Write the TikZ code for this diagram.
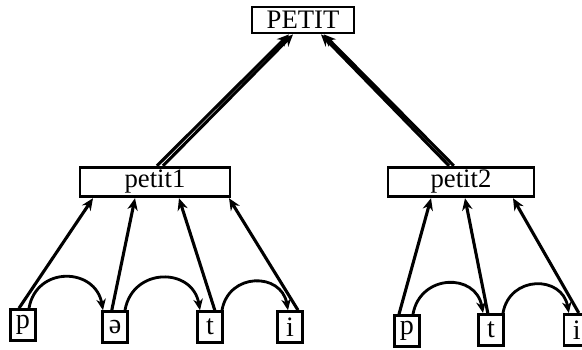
\documentclass[tikz,border=0pt]{standalone}
\usepackage{fontspec}
\setmainfont{Liberation Serif}
\usetikzlibrary{arrows.meta, calc, positioning}

\begin{document}
\begin{tikzpicture}[
  word/.style={draw, line width=2pt, inner sep=0pt, font=\fontsize{19}{20}\selectfont},
  seg/.style={draw, line width=2pt, inner sep=0pt, minimum width=0.64cm,
    minimum height=0.78cm, font=\fontsize{20}{21}\selectfont},
  arrow/.style={-{Stealth[length=3mm, width=2.6mm]}, line width=2.2pt},
  link/.style={-{Stealth[length=2.8mm, width=2.4mm]}, line width=2pt}
]
  \useasboundingbox (0, 0) rectangle (14.55, 8.75);

  % Blocks
  \node[word, minimum width=2.55cm, minimum height=0.65cm] (top) at (7.575, 8.25) {PETIT};
  \node[word, minimum width=3.75cm, minimum height=0.74cm] (petitA) at (3.875, 4.2) {petit1};
  \node[word, minimum width=3.65cm, minimum height=0.74cm] (petitB) at (11.525, 4.2) {petit2};

  \node[seg] (pA) at (0.575, 0.62) {p};
  \node[seg] (schwa) at (2.875, 0.57) {ə};
  \node[seg] (tA) at (5.25, 0.57) {t};
  \node[seg] (iA) at (7.25, 0.57) {i};

  \node[seg] (pB) at (10.175, 0.47) {p};
  \node[seg] (tB) at (12.275, 0.5) {t};
  \node[seg] (iB) at (14.42, 0.5) {i};

  % Arrows up to PETIT
  \draw[arrow] ([xshift=0.05cm]petitA.north) -- ([xshift=-0.35cm]top.south);
  \draw[arrow] ([xshift=0.2cm]petitA.north) -- ([xshift=-0.25cm]top.south);
  \draw[arrow] ([xshift=-0.3cm]petitB.north) -- ([xshift=0.45cm]top.south);
  \draw[arrow] ([xshift=-0.18cm]petitB.north) -- ([xshift=0.52cm]top.south);

  % Arrows up to petit1 and petit2
  \draw[arrow] ([xshift=-0.1cm]pA.north) -- ([xshift=-1.55cm]petitA.south);
  \draw[arrow] ([xshift=-0.08cm]schwa.north) -- ([xshift=-0.5cm]petitA.south);
  \draw[arrow] ([xshift=0.12cm]tA.north) -- ([xshift=0.6cm]petitA.south);
  \draw[arrow] ([xshift=0.2cm]iA.north) -- ([xshift=1.85cm]petitA.south);
  \draw[arrow] ([xshift=-0.2cm]pB.north) -- ([xshift=-0.75cm]petitB.south);
  \draw[arrow] ([xshift=-0.08cm]tB.north) -- ([xshift=0.1cm]petitB.south);
  \draw[arrow] ([xshift=0.05cm]iB.north) -- ([xshift=1.3cm]petitB.south);

  % Arcs between segments
  \draw[link] ([xshift=0.15cm]pA.north) to[out=80, in=100, looseness=1.5] ([xshift=-0.3cm]schwa.north);
  \draw[link] ([xshift=0.25cm]schwa.north) to[out=80, in=100, looseness=1.5] ([xshift=-0.25cm]tA.north);
  \draw[link] ([xshift=0.3cm]tA.north) to[out=80, in=100, looseness=1.5] ([xshift=-0.05cm]iA.north);
  \draw[link] ([xshift=0.15cm]pB.north) to[out=80, in=100, looseness=1.5] ([xshift=-0.2cm]tB.north);
  \draw[link] ([xshift=0.3cm]tB.north) to[out=80, in=100, looseness=1.5] ([xshift=-0.2cm]iB.north);
\end{tikzpicture}
\end{document}
